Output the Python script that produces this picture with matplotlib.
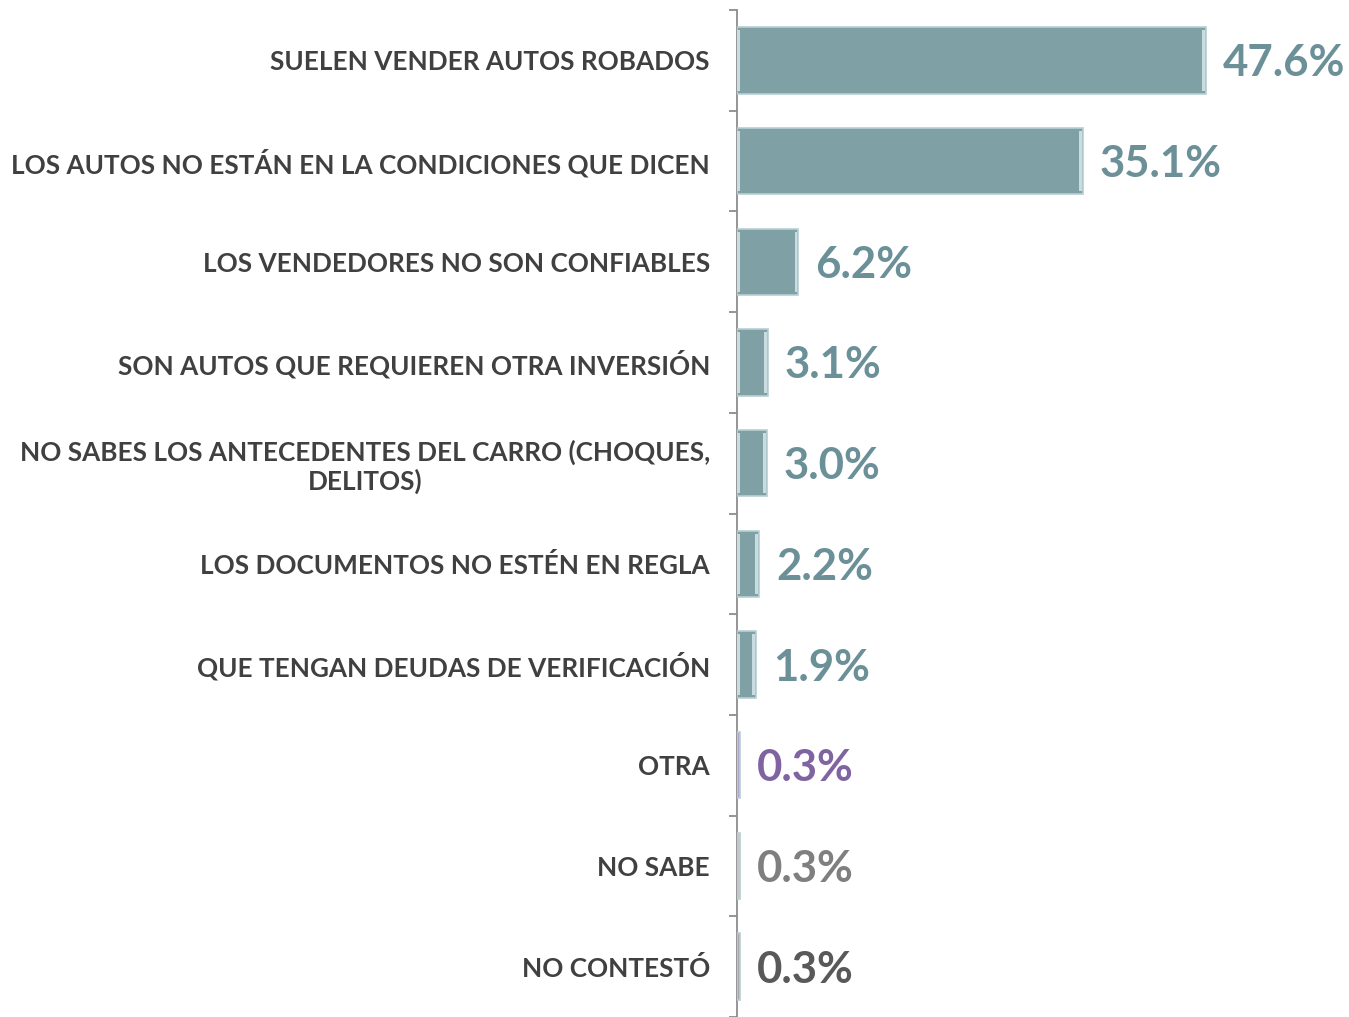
import matplotlib
matplotlib.use("Agg")
import matplotlib.pyplot as plt

categories = [
    "SUELEN VENDER AUTOS ROBADOS",
    "LOS AUTOS NO ESTÁN EN LA CONDICIONES QUE DICEN",
    "LOS VENDEDORES NO SON CONFIABLES",
    "SON AUTOS QUE REQUIEREN OTRA INVERSIÓN",
    "NO SABES LOS ANTECEDENTES DEL CARRO (CHOQUES,\nDELITOS)",
    "LOS DOCUMENTOS NO ESTÉN EN REGLA",
    "QUE TENGAN DEUDAS DE VERIFICACIÓN",
    "OTRA",
    "NO SABE",
    "NO CONTESTÓ",
]
values = [47.6, 35.1, 6.2, 3.1, 3.0, 2.2, 1.9, 0.3, 0.3, 0.3]
value_labels = ["47.6%", "35.1%", "6.2%", "3.1%", "3.0%", "2.2%", "1.9%", "0.3%", "0.3%", "0.3%"]

teal_bar = "#7FA0A5"
teal_txt = "#6B9098"
bar_colors = [teal_bar] * 7 + ["#B3A6CF", "#C4C4C4", "#A8A8A8"]
txt_colors = [teal_txt] * 7 + ["#8064A2", "#7F7F7F", "#595959"]

W, H = 1349, 1017
fig = plt.figure(figsize=(W / 100, H / 100), dpi=100)
fig.patch.set_facecolor("white")

ax = fig.add_axes([737 / W, 0.0, 1 - 737 / W, 1 - 10 / H])
ax.patch.set_alpha(0)

y = list(range(len(categories)))
ax.barh(y, values, height=0.66, color=bar_colors, edgecolor="#B8D0D3",
        linewidth=1.2, zorder=3)
# bevel highlights on the ends of each bar
for yi, v in zip(y, values):
    if v > 1:
        ax.barh(yi, 0.25, left=0.05, height=0.6, color="#C9DCDF", zorder=4, linewidth=0)
        ax.barh(yi, 0.25, left=v - 0.35, height=0.6, color="#C9DCDF", zorder=4, linewidth=0)

for yi, v, lab, c in zip(y, values, value_labels, txt_colors):
    ax.text(v + 1.75, yi + 0.03, lab, color=c, fontsize=31.5, family="Lato",
            weight="bold", ha="left", va="center", zorder=5)

ax.set_xlim(0, (W - 737) / 9.85)
ax.set_ylim(len(categories) - 0.5, -0.5)

for s in ["top", "right", "bottom"]:
    ax.spines[s].set_visible(False)
ax.spines["left"].set_color("#8C8C8C")
ax.spines["left"].set_linewidth(1.3)
ax.set_xticks([])
ax.set_yticks(y)
ax.set_yticklabels(categories, fontsize=18.8, family="Lato", weight="bold",
                   color="#404040", multialignment="center", linespacing=1.15)
ax.tick_params(axis="y", which="major", length=0, pad=19.5)
ax.set_yticks([i + 0.5 for i in range(-1, len(categories))], minor=True)
ax.tick_params(axis="y", which="minor", length=6, width=1.3, color="#8C8C8C")

fig.savefig("out.png", dpi=100)
